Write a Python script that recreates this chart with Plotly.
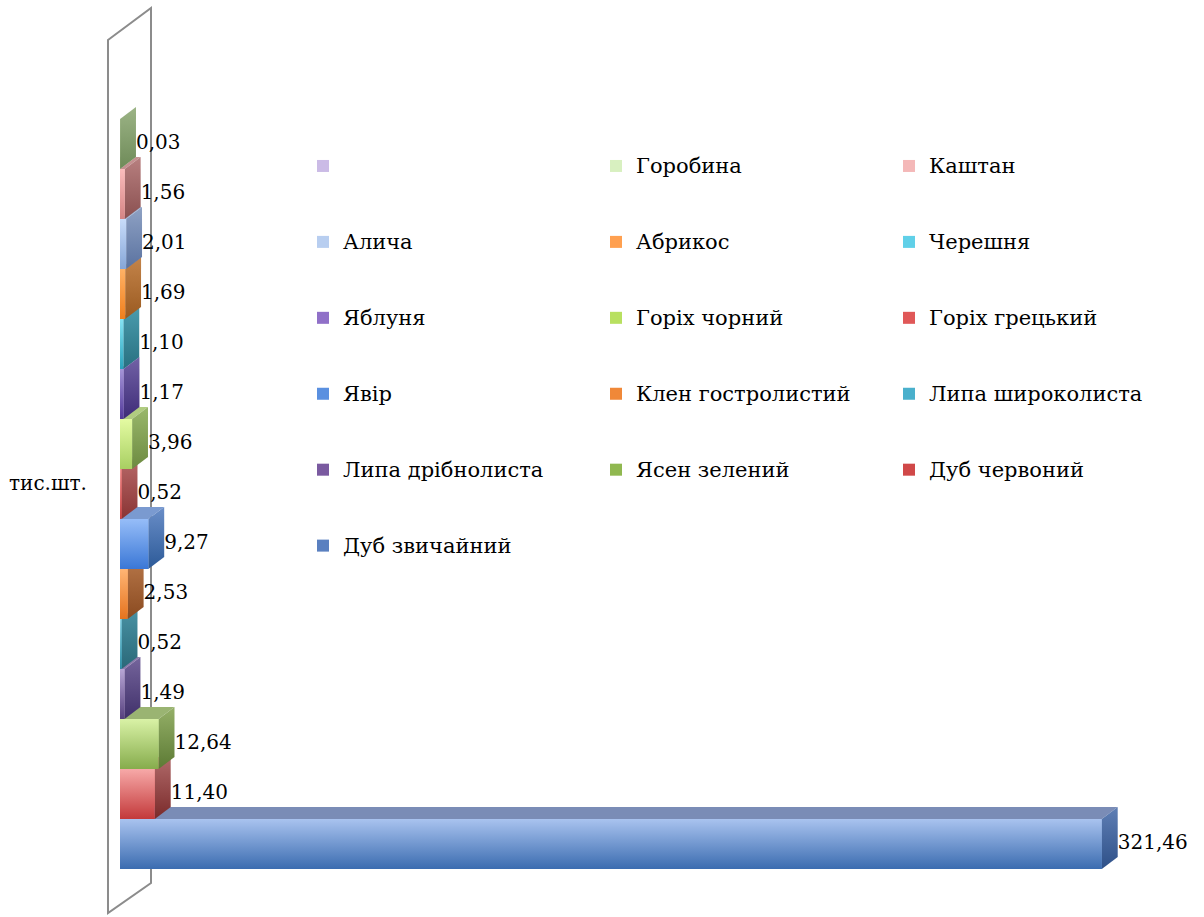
import plotly.graph_objects as go

# ---- data (bottom bar first) ----
species = [
    "Дуб звичайний", "Дуб червоний", "Ясен зелений", "Липа дрібнолиста",
    "Липа широколиста", "Клен гостролистий", "Явір", "Горіх грецький",
    "Горіх чорний", "Яблуня", "Черешня", "Абрикос", "Алича", "Каштан",
    "Горобина", "",
]
values = [
    321.46, 11.40, 12.64, 1.49, 0.52, 2.53, 9.27, 0.52,
    3.96, 1.17, 1.10, 1.69, 2.01, 1.56, 0.03, None,
]
unit_label = "тис.шт."

# ---- styling ----
FONT = "DejaVu Serif"
front_light = ["#a9c3ef", "#f7a9a8", "#d9f2a6", "#b8a6d6", "#94d6e6", "#ffb574",
               "#96bdf8", "#f29696", "#e4fba2", "#a595d8", "#86e4f4", "#ffb266",
               "#c8dcfa", "#fbbcbc", "#e2f3cb", "#dccbf2"]
front_dark = ["#3b6cb0", "#c3393a", "#86ac4c", "#56407e", "#2a8ca4", "#e5731e",
              "#3a77d6", "#c84040", "#a8cf62", "#52399a", "#2aa2bc", "#f07f1c",
              "#86a6d8", "#d48484", "#a9c990", "#b39dd6"]
side_light = ["#5f7fb5", "#b06a6a", "#95b068", "#75659c", "#4a94a6", "#b8784a",
              "#6a8ec8", "#b86a6a", "#9ab86c", "#7262a6", "#4a9cae", "#c4844a",
              "#8fa2c4", "#b88080", "#9cb486", "#a898c4"]
side_dark = ["#2e5088", "#7a2a2a", "#5c7a34", "#40306a", "#2a6878", "#8a4a20",
             "#2c5a98", "#8a3434", "#6c8a40", "#3e2c78", "#287080", "#9a5a20",
             "#5a72a0", "#8a5050", "#6e8a58", "#7a6aa0"]
top_color = ["#7a8cb6", "#b87272", "#9ab472", "#8a7aaa", "#5e9eae", "#c48a5a",
             "#7a9ad0", "#c07474", "#b0cc80", "#8474b4", "#5eacbc", "#d0925a",
             "#9cb0d0", "#c49090", "#a8c090", "#b4a6d0"]
legend_color = ["#5a80c0", "#d04848", "#90b850", "#7a5aa0", "#4ab0cc", "#f08838",
                "#5a90e0", "#e05858", "#b8e060", "#9070c8", "#60d0e8", "#ffa050",
                "#b8cef0", "#f4b8b8", "#d8f0c0", "#cbbbe6"]

DX = 5.2    # depth of the 3-D effect along x (data units)
DY = 0.24   # depth of the 3-D effect along y (category units)
N_COLS = 3  # legend columns

fig = go.Figure()


def face(xs, ys, light, dark=None):
    kw = dict(x=xs, y=ys, mode="lines", fill="toself",
              line=dict(width=0, color="rgba(0,0,0,0)"),
              hoverinfo="skip", showlegend=False, fillcolor=light)
    if dark is not None:
        kw["fillgradient"] = dict(type="vertical", colorscale=[[0, dark], [1, light]])
    return go.Scatter(**kw)


# legend entries: listed top bar first, filled row by row into columns
n = len(species)
order = list(range(n - 1, -1, -1))
legend_slots = sorted(range(n), key=lambda k: (k % N_COLS, k))
for k in legend_slots:
    i = order[k]
    v = values[i]
    fig.add_trace(go.Bar(
        x=[v], y=[i], orientation="h", width=1.0,
        name=" <br><span style='font-size:21px'>%s</span><br> " % (species[i] if species[i] else " "),
        legendgroup="col%d" % (k % N_COLS),
        marker=dict(color=legend_color[i], line=dict(width=0)),
        hoverinfo="skip",
    ))

# bar faces, bottom to top so upper fronts overlap lower tops
for i, v in enumerate(values):
    if v is None:
        continue
    y0, y1 = i - 0.5, i + 0.5
    fig.add_trace(face([0, v, v + DX, DX, 0], [y1, y1, y1 + DY, y1 + DY, y1], top_color[i]))
    fig.add_trace(face([v, v + DX, v + DX, v, v], [y0, y0 + DY, y1 + DY, y1, y0],
                       side_light[i], side_dark[i]))
    fig.add_trace(face([0, v, v, 0, 0], [y0, y0, y1, y1, y0], front_light[i], front_dark[i]))

# value labels beside each bar
lab_x, lab_y, lab_t = [], [], []
for i, v in enumerate(values):
    if v is None:
        continue
    lab_x.append(v + DX)
    lab_y.append(i)
    lab_t.append(f"{v:.2f}".replace(".", ","))
fig.add_trace(go.Scatter(
    x=lab_x, y=lab_y, text=lab_t, mode="text", textposition="middle right",
    textfont=dict(family=FONT, size=20, color="#000000"),
    hoverinfo="skip", showlegend=False, cliponaxis=False,
))

# side wall outline
L, R, T, B = 120, 15, 69, 48
PW, PH = 1204 - L - R, 917 - T - B


def px(xp, yp):
    return (xp - L) / PW, (917 - B - yp) / PH


wall = [px(108, 40), px(151, 8), px(151, 883), px(108, 913)]
path = "M " + " L ".join(f"{a:.5f},{b:.5f}" for a, b in wall) + " Z"
fig.add_shape(type="path", path=path, xref="paper", yref="paper",
              line=dict(color="#8c8c8c", width=2), fillcolor="rgba(0,0,0,0)", layer="below")

ax, ay = px(48, 483)
fig.add_annotation(text=unit_label, xref="paper", yref="paper",
                   x=ax, y=ay, xanchor="center", yanchor="middle", showarrow=False,
                   font=dict(family=FONT, size=20, color="#000000"))

lx, ly = px(303, 123)
fig.update_layout(
    width=1204, height=917, autosize=False,
    margin=dict(l=L, r=R, t=T, b=B),
    paper_bgcolor="white", plot_bgcolor="white",
    font=dict(family=FONT, color="#000000"),
    barmode="overlay",
    showlegend=True,
    legend=dict(
        orientation="h", traceorder="grouped",
        x=lx, y=ly, xanchor="left", yanchor="top",
        entrywidth=248, entrywidthmode="pixels",
        maxheight=700,
        font=dict(family=FONT, size=18.7, color="#000000"),
        bgcolor="rgba(0,0,0,0)", tracegroupgap=0,
    ),
    xaxis=dict(range=[0, 350], visible=False, showgrid=False, zeroline=False),
    yaxis=dict(range=[-0.5, 15.5], visible=False, showgrid=False, zeroline=False),
)

fig.write_html("out.html")
